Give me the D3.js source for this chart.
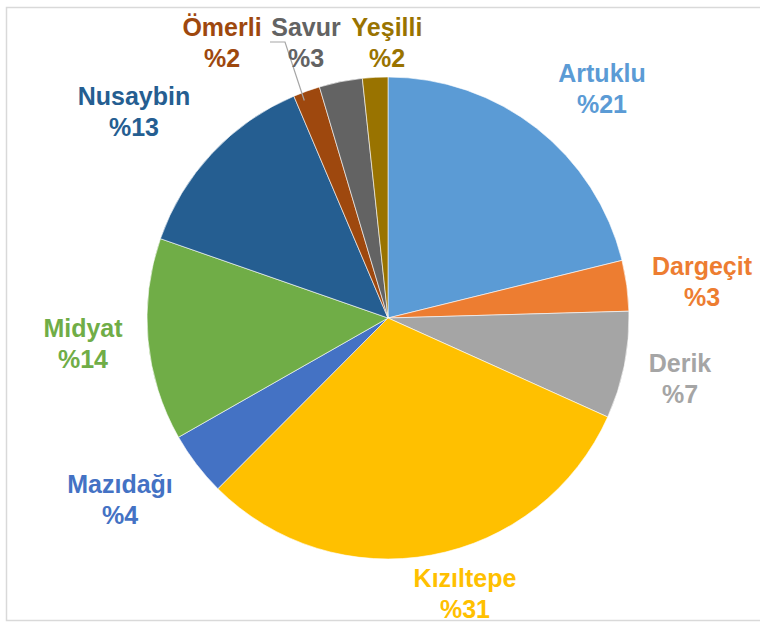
<!DOCTYPE html>
<html>
<head>
<meta charset="utf-8">
<script src="https://cdn.jsdelivr.net/npm/d3@7"></script>
<style>
  body { margin: 0; background: #fff; }
  text { font-family: "Liberation Sans", Arial, sans-serif; font-weight: bold; }
</style>
</head>
<body>
<div id="chart"></div>
<script>
// ilçeler ve yüzdeleri (saat yönünde, tepeden başlayarak)
const districts = ["Artuklu", "Dargeçit", "Derik", "Kızıltepe", "Mazıdağı", "Midyat", "Nusaybin", "Ömerli", "Savur", "Yeşilli"];
const shares = [21.2, 3.4, 7.2, 30.8, 4.3, 13.6, 13.3, 1.8, 2.9, 1.7];
const colors = ["#5B9BD5", "#ED7D31", "#A5A5A5", "#FFC000", "#4472C4", "#70AD47", "#255E91", "#9E480E", "#636363", "#997300"];

WIDTH = 760;
HEIGHT = 626;
CX = 388;
CY = 318;
R = 241;

// etiket yerleri (Excel "best fit" gibi elle)
const labelPos = {
  "Artuklu":  [602, 82],
  "Dargeçit": [702, 275],
  "Derik":    [680, 372],
  "Kızıltepe":[465, 587],
  "Mazıdağı": [120, 493],
  "Midyat":   [83, 337],
  "Nusaybin": [134, 105],
  "Ömerli":   [222, 36],
  "Savur":    [306, 36],
  "Yeşilli":  [387, 36]
};

const svg = d3.select("#chart")
  .append("svg")
    .attr("width", WIDTH)
    .attr("height", HEIGHT)

// çerçeve
svg.append("rect")
  .attr("x", 6.5).attr("y", 7.5)
  .attr("width", WIDTH).attr("height", 613)
  .attr("fill", "#fff")
  .attr("stroke", "#d9d9d9")
  .attr("stroke-width", 1.5)

const data = districts.map((d, i) => ({ name: d, value: shares[i], color: colors[i] }));

const pie = d3.pie().value(d => d.value).sort(null);
const arc = d3.arc().innerRadius(0).outerRadius(R);
const arcs = pie(data);

const g = svg.append("g").attr("transform", `translate(${CX},${CY})`);

g.selectAll("path")
  .data(arcs)
  .join("path")
    .attr("d", arc)
    .attr("fill", d => d.data.color)
    .attr("stroke", "#fff")
    .attr("stroke-width", 0.6)

// Savur için kılavuz çizgi (referansta Ömerli dilimine kadar iniyor)
const om = arcs.find(a => a.data.name == "Ömerli");
const ma = om.startAngle + (om.endAngle - om.startAngle) * 0.3;
const ex = CX + Math.sin(ma) * (R - 8), ey = CY - Math.cos(ma) * (R - 8);
svg.append("polyline")
  .attr("points", [[270, 42], [285, 42], [ex, ey]].map(p => p.join(",")).join(" "))
  .attr("fill", "none")
  .attr("stroke", "#a6a6a6")
  .attr("stroke-width", 1.2)

// etiketler
data.map((item, n) => {
  const p = labelPos[item.name];
  const t = svg.append("text")
    .attr("text-anchor", "middle")
    .attr("font-size", 25)
    .attr("fill", item.color)
  t.append("tspan").attr("x", p[0]).attr("y", p[1]).text(item.name)
  t.append("tspan").attr("x", p[0]).attr("y", p[1] + 31).text("%" + Math.round(item.value))
});
</script>
</body>
</html>
